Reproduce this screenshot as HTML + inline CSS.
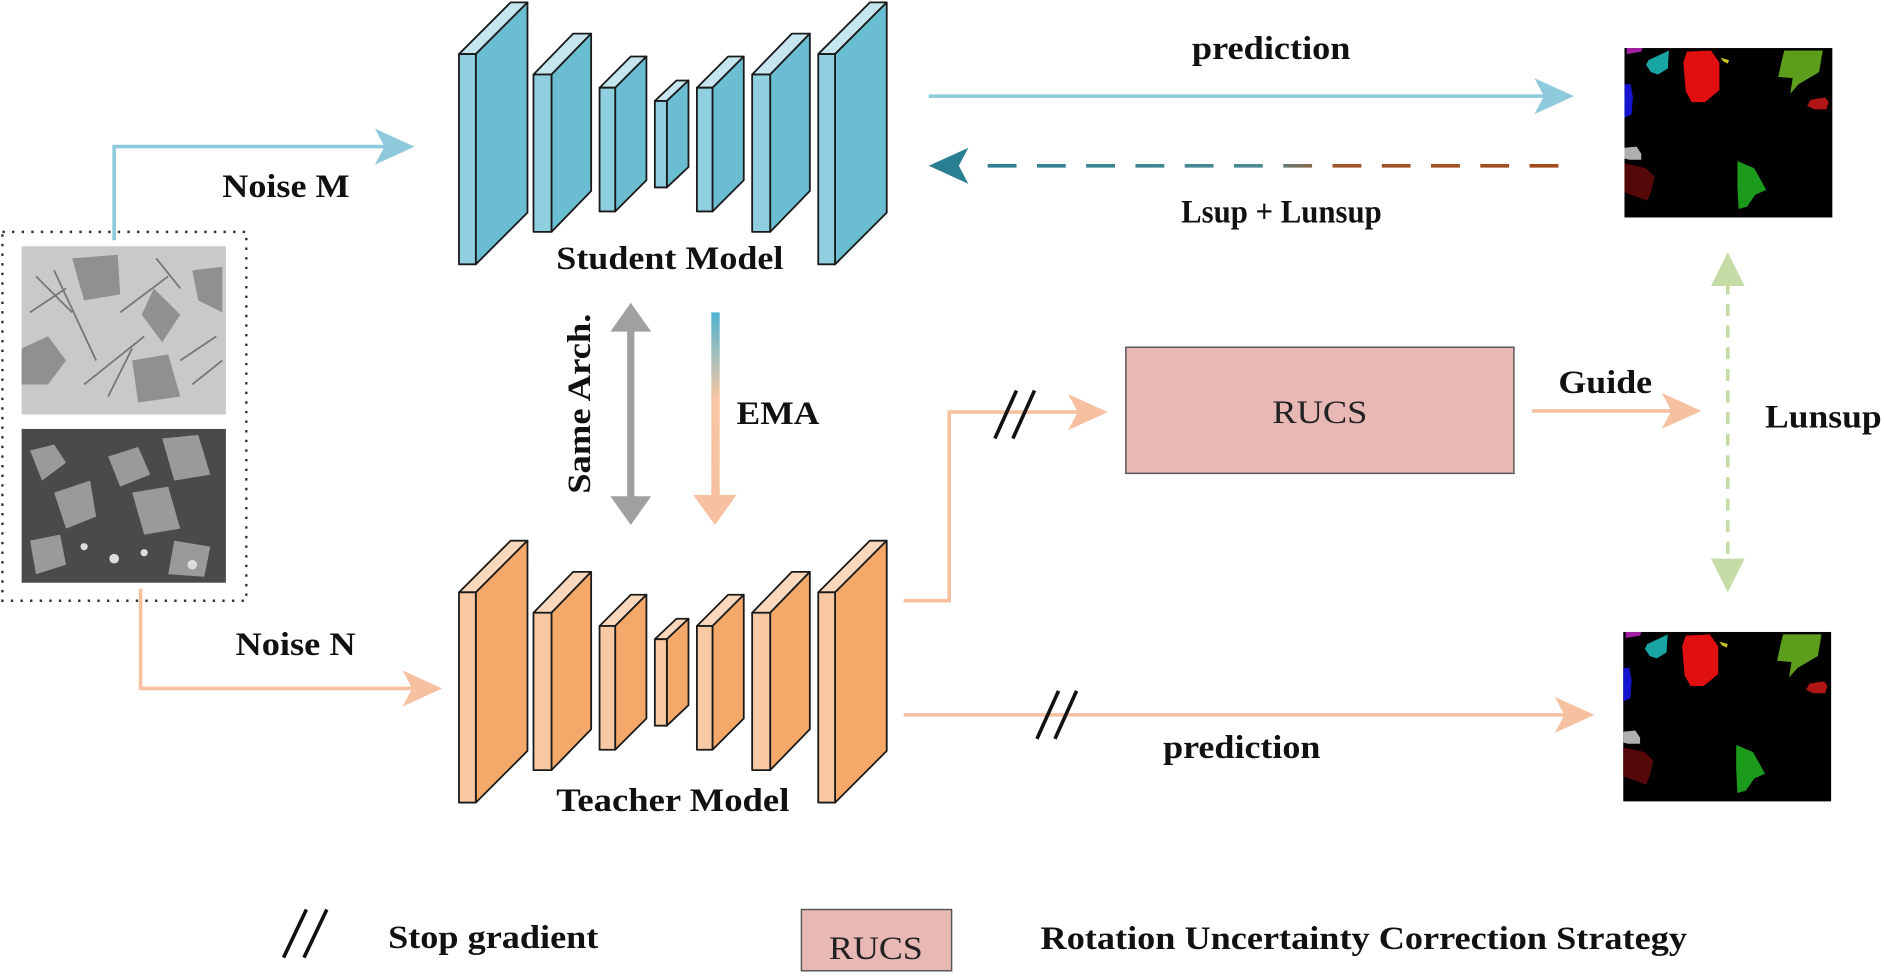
<!DOCTYPE html>
<html><head><meta charset="utf-8"><style>html,body{margin:0;padding:0;background:#fff}svg{display:block}</style></head>
<body>
<svg width="1884" height="978" viewBox="0 0 1568 814" preserveAspectRatio="none" xmlns="http://www.w3.org/2000/svg" font-family="'Liberation Serif', serif" font-weight="bold">
<defs>
<linearGradient id="ema" x1="0" y1="0" x2="0" y2="1"><stop offset="0" stop-color="#4fb3cf"/><stop offset="0.45" stop-color="#f7c7a4"/><stop offset="1" stop-color="#f7c0a0"/></linearGradient>
<linearGradient id="dash" gradientUnits="userSpaceOnUse" x1="805" y1="0" x2="1297" y2="0"><stop offset="0" stop-color="#2b7f92"/><stop offset="0.5" stop-color="#4d8a93"/><stop offset="0.62" stop-color="#a0572a"/><stop offset="1" stop-color="#a34b1d"/></linearGradient>
<g id="seg">
<rect x="0" y="0" width="173" height="141" fill="#000"/>
<path d="M2 0 L15 0 L14 3 L2 5Z" fill="#a020a0"/>
<path d="M20 10 L33 4 L37 2 L36 17 L28 22 L22 20 L18 14Z" fill="#1aa5a5"/>
<path d="M52 3 L72 2 L79 12 L79 35 L67 45 L56 45 L51 36 L49 12Z" fill="#e01010"/>
<path d="M80 8 L87 10 L86 13 L82 11Z" fill="#c8c020"/>
<path d="M133 2 L165 2 L162 20 L145 30 L138 38 L140 25 L128 24 L131 10Z" fill="#5c9e1c"/>
<path d="M155 43 L167 41 L170 45 L168 51 L158 51 L152 48Z" fill="#b01515"/>
<path d="M0 30 L5 30 L7 40 L6 55 L0 58Z" fill="#1515d0"/>
<path d="M0 83 L10 82 L14 88 L14 93 L4 93 L0 92Z" fill="#b0b0b0"/>
<path d="M0 96 L18 100 L25 107 L22 120 L19 127 L8 123 L0 120Z" fill="#550808"/>
<path d="M94 94 L108 100 L118 118 L109 122 L102 132 L95 134 L94 115Z" fill="#1c9a1c"/>
</g>
</defs>

<rect x="2" y="193" width="203" height="307" fill="none" stroke="#333" stroke-width="2" stroke-dasharray="2,6"/>
<rect x="18" y="205" width="170" height="140" fill="#c9c9c9"/>
<g fill="#8a8a8a" opacity="0.9">
<path d="M60 215 L98 212 L100 245 L70 250Z"/><path d="M128 240 L150 262 L135 285 L118 262Z"/>
<path d="M18 290 L40 280 L55 300 L40 320 L18 320Z"/><path d="M110 300 L140 295 L150 330 L115 335Z"/>
<path d="M160 225 L185 222 L185 260 L165 250Z"/>
</g>
<g stroke="#777" stroke-width="1.5">
<path d="M30 230 L60 260 M45 225 L80 300 M100 260 L140 230 M70 320 L120 280 M150 300 L180 280 M25 260 L55 240 M90 330 L110 290 M130 215 L150 240 M160 320 L185 300"/>
</g>
<rect x="18" y="357" width="170" height="128" fill="#4a4a4a"/>
<g fill="#9a9a9a">
<path d="M25 375 L45 370 L55 385 L35 400Z"/><path d="M45 410 L75 400 L80 430 L55 440Z"/>
<path d="M90 380 L115 372 L125 395 L100 405Z"/><path d="M135 365 L165 362 L175 395 L145 400Z"/>
<path d="M110 410 L140 405 L150 440 L120 445Z"/><path d="M145 450 L175 455 L170 480 L140 478Z"/>
<path d="M25 450 L50 445 L55 470 L30 478Z"/>
</g>
<g fill="#ddd"><circle cx="95" cy="465" r="4"/><circle cx="70" cy="455" r="3"/><circle cx="120" cy="460" r="3"/><circle cx="160" cy="470" r="4"/></g>

<g stroke="#1a1a1a" stroke-width="1.5" stroke-linejoin="round">
<g>
<polygon points="382,45 396,45 439,2 425,2" fill="#c5e6ee"/><polygon points="396,45 439,2 439,177 396,220" fill="#6bbdd2"/><rect x="382" y="45" width="14" height="175" fill="#8fcfdf"/>
<polygon points="444,62 459,62 492,28 477,28" fill="#c5e6ee"/><polygon points="459,62 492,28 492,159 459,193" fill="#6bbdd2"/><rect x="444" y="62" width="15" height="131" fill="#8fcfdf"/>
<polygon points="499,73 512,73 538,47 525,47" fill="#c5e6ee"/><polygon points="512,73 538,47 538,150 512,176" fill="#6bbdd2"/><rect x="499" y="73" width="13" height="103" fill="#8fcfdf"/>
<polygon points="545,84 555,84 573,67 563,67" fill="#c5e6ee"/><polygon points="555,84 573,67 573,139 555,156" fill="#6bbdd2"/><rect x="545" y="84" width="10" height="72" fill="#8fcfdf"/>
<polygon points="580,73 593,73 619,47 606,47" fill="#c5e6ee"/><polygon points="593,73 619,47 619,150 593,176" fill="#6bbdd2"/><rect x="580" y="73" width="13" height="103" fill="#8fcfdf"/>
<polygon points="626,62 641,62 674,28 659,28" fill="#c5e6ee"/><polygon points="641,62 674,28 674,159 641,193" fill="#6bbdd2"/><rect x="626" y="62" width="15" height="131" fill="#8fcfdf"/>
<polygon points="681,45 695,45 738,2 724,2" fill="#c5e6ee"/><polygon points="695,45 738,2 738,177 695,220" fill="#6bbdd2"/><rect x="681" y="45" width="14" height="175" fill="#8fcfdf"/>
</g>
<g transform="translate(0,448)">
<polygon points="382,45 396,45 439,2 425,2" fill="#fbd8bb"/><polygon points="396,45 439,2 439,177 396,220" fill="#f4a96b"/><rect x="382" y="45" width="14" height="175" fill="#f9c9a3"/>
<polygon points="444,62 459,62 492,28 477,28" fill="#fbd8bb"/><polygon points="459,62 492,28 492,159 459,193" fill="#f4a96b"/><rect x="444" y="62" width="15" height="131" fill="#f9c9a3"/>
<polygon points="499,73 512,73 538,47 525,47" fill="#fbd8bb"/><polygon points="512,73 538,47 538,150 512,176" fill="#f4a96b"/><rect x="499" y="73" width="13" height="103" fill="#f9c9a3"/>
<polygon points="545,84 555,84 573,67 563,67" fill="#fbd8bb"/><polygon points="555,84 573,67 573,139 555,156" fill="#f4a96b"/><rect x="545" y="84" width="10" height="72" fill="#f9c9a3"/>
<polygon points="580,73 593,73 619,47 606,47" fill="#fbd8bb"/><polygon points="593,73 619,47 619,150 593,176" fill="#f4a96b"/><rect x="580" y="73" width="13" height="103" fill="#f9c9a3"/>
<polygon points="626,62 641,62 674,28 659,28" fill="#fbd8bb"/><polygon points="641,62 674,28 674,159 641,193" fill="#f4a96b"/><rect x="626" y="62" width="15" height="131" fill="#f9c9a3"/>
<polygon points="681,45 695,45 738,2 724,2" fill="#fbd8bb"/><polygon points="695,45 738,2 738,177 695,220" fill="#f4a96b"/><rect x="681" y="45" width="14" height="175" fill="#f9c9a3"/>
</g>
</g>

<use href="#seg" x="1352" y="40"/>
<use href="#seg" x="1351" y="526"/>

<g fill="none" stroke="#8ecadb" stroke-width="3">
<polyline points="95,200 95,122 322,122"/>
<line x1="773" y1="80" x2="1290" y2="80"/>
</g>
<g fill="#8ecadb">
<polygon points="345,122 312,107 320,122 312,137"/>
<polygon points="1310,80 1277,65 1285,80 1277,95"/>
</g>
<line x1="1297" y1="138" x2="815" y2="138" stroke="url(#dash)" stroke-width="3" stroke-dasharray="24,17"/>
<polygon points="773,138 806,123 798,138 806,153" fill="#2b7f92"/>

<g fill="none" stroke="#f7c0a0" stroke-width="3">
<polyline points="117,490 117,573 345,573"/>
<polyline points="752,500 790,500 790,343 900,343"/>
<line x1="1275" y1="342" x2="1395" y2="342"/>
<line x1="752" y1="595" x2="1305" y2="595"/>
</g>
<g fill="#f7c0a0">
<polygon points="368,573 335,558 343,573 335,588"/>
<polygon points="922,343 889,328 897,343 889,358"/>
<polygon points="1416,342 1383,327 1391,342 1383,357"/>
<polygon points="1327,595 1294,580 1302,595 1294,610"/>
</g>
<g stroke="#111" stroke-width="3">
<line x1="828" y1="365" x2="846" y2="325"/><line x1="843" y1="365" x2="861" y2="325"/>
<line x1="863" y1="615" x2="881" y2="575"/><line x1="878" y1="615" x2="896" y2="575"/>
<line x1="236" y1="797" x2="255" y2="757"/><line x1="253" y1="797" x2="272" y2="757"/>
</g>

<line x1="525" y1="272" x2="525" y2="418" stroke="#a0a0a0" stroke-width="6"/>
<polygon points="525,252 508,276 542,276" fill="#a0a0a0"/>
<polygon points="525,437 508,413 542,413" fill="#a0a0a0"/>
<rect x="592" y="260" width="7" height="158" fill="url(#ema)"/>
<polygon points="595,437 577,412 613,412" fill="#f7c0a0"/>

<line x1="1438" y1="235" x2="1438" y2="470" stroke="#c5dca6" stroke-width="3" stroke-dasharray="10,8"/>
<polygon points="1438,210 1424,238 1452,238" fill="#c5dca6"/>
<polygon points="1438,493 1424,465 1452,465" fill="#c5dca6"/>

<rect x="937" y="289" width="323" height="105" fill="#e8b8b5" stroke="#555" stroke-width="1.2"/>
<text x="1059" y="352" font-size="27" font-weight="normal" fill="#222" textLength="79" lengthAdjust="spacingAndGlyphs">RUCS</text>
<rect x="667" y="757" width="125" height="51" fill="#e8b8b5" stroke="#555" stroke-width="1.2"/>
<text x="690" y="798" font-size="27" font-weight="normal" fill="#222" textLength="78" lengthAdjust="spacingAndGlyphs">RUCS</text>

<g font-size="27" fill="#111">
<text x="185" y="164" textLength="106" lengthAdjust="spacingAndGlyphs">Noise M</text>
<text x="196" y="545" textLength="100" lengthAdjust="spacingAndGlyphs">Noise N</text>
<text x="463" y="224" textLength="189" lengthAdjust="spacingAndGlyphs">Student Model</text>
<text x="463" y="675" textLength="194" lengthAdjust="spacingAndGlyphs">Teacher Model</text>
<text x="992" y="49" textLength="132" lengthAdjust="spacingAndGlyphs">prediction</text>
<text x="983" y="185" textLength="167" lengthAdjust="spacingAndGlyphs">Lsup + Lunsup</text>
<text x="613" y="353" textLength="69" lengthAdjust="spacingAndGlyphs">EMA</text>
<text x="1297" y="327" textLength="78" lengthAdjust="spacingAndGlyphs">Guide</text>
<text x="1469" y="356" textLength="97" lengthAdjust="spacingAndGlyphs">Lunsup</text>
<text x="968" y="631" textLength="131" lengthAdjust="spacingAndGlyphs">prediction</text>
<text x="323" y="789" textLength="175" lengthAdjust="spacingAndGlyphs">Stop gradient</text>
<text x="866" y="790" textLength="538" lengthAdjust="spacingAndGlyphs">Rotation Uncertainty Correction Strategy</text>
<text transform="translate(491,411) rotate(-90)" textLength="150" lengthAdjust="spacingAndGlyphs">Same Arch.</text>
</g>
</svg>
</body></html>
